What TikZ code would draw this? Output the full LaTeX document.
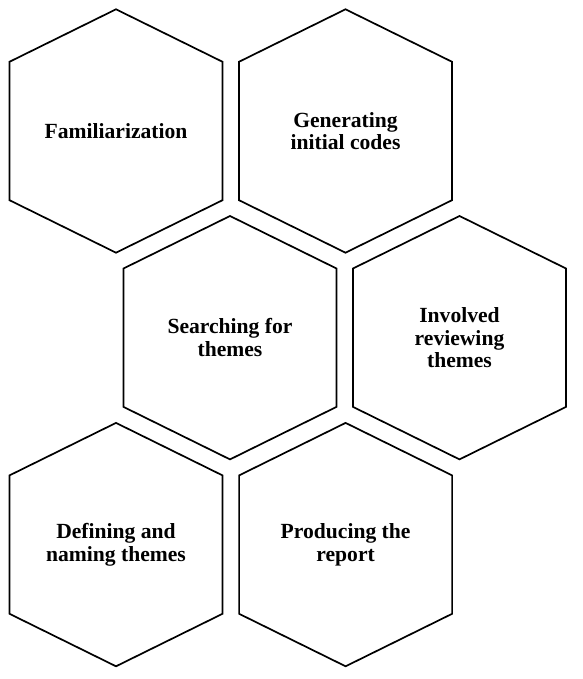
\documentclass[tikz,border=0pt]{standalone}
\usepackage{fontspec}
\setmainfont{Liberation Serif}
\tikzset{
  hexline/.style={draw=black, line width=1.7pt, line join=miter},
  hexlabel/.style={align=center, inner sep=0pt, font=\fontsize{21.6}{22.5}\selectfont\bfseries}
}
\newcommand\drawhexagon[1]{%
  \draw[hexline] (#1) ++(0,121.7) -- ++(-106.5,-52.5) -- ++(0,-138.4) -- ++(106.5,-52.5) -- ++(106.5,52.5) -- ++(0,138.4) -- cycle;}
\begin{document}
\begin{tikzpicture}[x=1pt,y=1pt]
\useasboundingbox (0,0) rectangle (582,679);
\coordinate (c1) at (116,548);
\coordinate (c2) at (345.5,548);
\coordinate (c3) at (230,341.3);
\coordinate (c4) at (459.5,341.3);
\coordinate (c5) at (116,134.4);
\coordinate (c6) at (345.6,134.4);
\drawhexagon{c1}
\drawhexagon{c2}
\drawhexagon{c3}
\drawhexagon{c4}
\drawhexagon{c5}
\drawhexagon{c6}
\node[hexlabel] (t1) at (c1) {Familiarization};
\node[hexlabel] (t2) at (c2) {Generating\\initial codes};
\node[hexlabel] (t3) at (c3) {Searching for\\themes};
\node[hexlabel] (t4) at (c4) {Involved\\reviewing\\themes};
\node[hexlabel] (t5) at (c5) {Defining and\\naming themes};
\node[hexlabel] (t6) at (c6) {Producing the\\report};
\end{tikzpicture}
\end{document}
